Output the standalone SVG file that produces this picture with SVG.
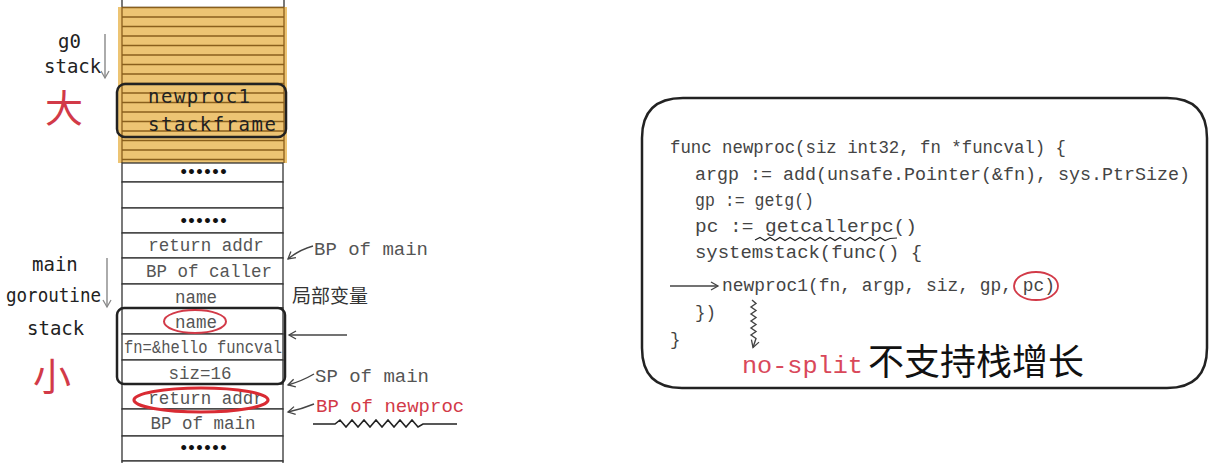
<svg xmlns="http://www.w3.org/2000/svg" width="1231" height="463" viewBox="0 0 1231 463">
<style>
.cell{fill:#fff;stroke:#333;stroke-width:1.3}
.ct{font-family:"Liberation Mono","Courier New",monospace;font-size:17.5px;fill:#555;text-anchor:middle}
.dots{font-family:"DejaVu Sans",sans-serif;font-size:14px;font-weight:bold;fill:#111;text-anchor:middle;letter-spacing:-1px}
.hand{font-family:"DejaVu Sans Mono",monospace;font-size:19px;fill:#222}
.lbl{font-family:"Liberation Mono","Courier New",monospace;font-size:19px;fill:#555}
.code{font-family:"Liberation Mono","Courier New",monospace;font-size:17.5px;fill:#444}
.cjk{font-family:"Noto Sans CJK SC",sans-serif}
.red{fill:#d23a48}
.arr{fill:none;stroke:#444;stroke-width:1.4;marker-end:url(#open)}
.stripe{stroke:#8a5f1c;stroke-width:1.3}
</style>
<defs>
<marker id="open" markerWidth="10" markerHeight="10" refX="8" refY="5" orient="auto" markerUnits="userSpaceOnUse">
<path d="M1,1 L8,5 L1,9" fill="none" stroke="#444" stroke-width="1.3"/>
</marker>
<marker id="gopen" markerWidth="10" markerHeight="10" refX="8" refY="5" orient="auto" markerUnits="userSpaceOnUse">
<path d="M1,1 L8,5 L1,9" fill="none" stroke="#888" stroke-width="1.3"/>
</marker>
</defs>
<rect width="1231" height="463" fill="#fff"/>

<g id="g0-stack">
<rect class="cell" x="122" y="-2" width="162" height="9.5"/>
<rect x="118" y="7" width="169" height="156" fill="#edc473"/>
<g class="stripe">
<line x1="122" y1="7.5" x2="284" y2="7.5"/>
<line x1="122" y1="17" x2="284" y2="17"/>
<line x1="122" y1="26.5" x2="284" y2="26.5"/>
<line x1="122" y1="36" x2="284" y2="36"/>
<line x1="122" y1="45.5" x2="284" y2="45.5"/>
<line x1="122" y1="55" x2="284" y2="55"/>
<line x1="122" y1="64.5" x2="284" y2="64.5"/>
<line x1="122" y1="74" x2="284" y2="74"/>
<line x1="122" y1="83.5" x2="284" y2="83.5"/>
<line x1="122" y1="93" x2="284" y2="93"/>
<line x1="122" y1="102.5" x2="284" y2="102.5"/>
<line x1="122" y1="112" x2="284" y2="112"/>
<line x1="122" y1="121.5" x2="284" y2="121.5"/>
<line x1="122" y1="131" x2="284" y2="131"/>
<line x1="122" y1="140.5" x2="284" y2="140.5"/>
<line x1="122" y1="150" x2="284" y2="150"/>
<line x1="122" y1="159.5" x2="284" y2="159.5"/>
<line x1="122" y1="7" x2="122" y2="163"/>
<line x1="284" y1="7" x2="284" y2="163"/>
</g>
</g>

<g id="newproc1-frame">
<rect x="117" y="84" width="169" height="53" rx="8" fill="none" stroke="#222" stroke-width="2.5"/>
<text class="hand" x="148" y="103" letter-spacing="1.5">newproc1</text>
<text class="hand" x="148" y="131" letter-spacing="1.5">stackframe</text>
</g>

<g id="main-stack">
<rect class="cell" x="122" y="163" width="161" height="19"/>
<text class="dots" x="203" y="177">••••••</text>
<rect class="cell" x="122" y="182" width="161" height="26"/>
<rect class="cell" x="122" y="208" width="161" height="25"/>
<text class="dots" x="203" y="226">••••••</text>
<rect class="cell" x="122" y="233" width="161" height="25"/>
<text class="ct" x="206" y="251">return addr</text>
<rect class="cell" x="122" y="258" width="161" height="26"/>
<text class="ct" x="209" y="277">BP of caller</text>
<rect class="cell" x="122" y="284" width="161" height="24"/>
<text class="ct" x="196" y="303">name</text>
<rect class="cell" x="122" y="308" width="161" height="26"/>
<text class="ct" x="196" y="328">name</text>
<rect class="cell" x="122" y="334" width="161" height="26"/>
<text class="ct" x="203" y="353" textLength="158" lengthAdjust="spacingAndGlyphs">fn=&amp;hello funcval</text>
<rect class="cell" x="122" y="360" width="161" height="24"/>
<text class="ct" x="200" y="379">siz=16</text>
<rect class="cell" x="122" y="384" width="161" height="25"/>
<text class="ct" x="206" y="404">return addr</text>
<rect class="cell" x="122" y="409" width="161" height="27"/>
<text class="ct" x="203" y="429">BP of main</text>
<rect class="cell" x="122" y="436" width="161" height="25"/>
<text class="dots" x="203" y="453">••••••</text>
<rect class="cell" x="122" y="461" width="161" height="10"/>
<rect x="117" y="308" width="168" height="76" rx="7" fill="none" stroke="#222" stroke-width="2.5"/>
<ellipse cx="195" cy="321.5" rx="31" ry="11.5" fill="none" stroke="#d23a48" stroke-width="2"/>
<ellipse cx="201" cy="400" rx="67" ry="12" fill="none" stroke="#d92b33" stroke-width="3.2"/>
</g>

<g id="left-labels">
<text class="hand" x="58" y="48">g0</text>
<text class="hand" x="44" y="73">stack</text>
<text class="cjk red" x="45" y="122" font-size="38">大</text>
<text class="hand" x="32" y="271">main</text>
<text class="hand" x="6" y="302" textLength="95" lengthAdjust="spacingAndGlyphs">goroutine</text>
<text class="hand" x="27" y="335">stack</text>
<text class="cjk red" x="33" y="390" font-size="38">小</text>
</g>

<g id="right-labels">
<text class="lbl" x="314" y="255">BP of main</text>
<text class="cjk" x="292" y="303" font-size="19" fill="#333">局部变量</text>
<text class="lbl" x="315" y="382">SP of main</text>
<text class="lbl red" x="316" y="412">BP of newproc</text>
</g>

<g id="connectors">
<line x1="105" y1="34" x2="105" y2="78" stroke="#888" stroke-width="1.4" marker-end="url(#gopen)"/>
<line x1="107" y1="258" x2="107" y2="307" stroke="#888" stroke-width="1.4" marker-end="url(#gopen)"/>
<path class="arr" d="M313,246 Q299,250 288,259"/>
<path class="arr" d="M347,335 L289,335"/>
<path class="arr" d="M314,374 Q302,381 288,385"/>
<path class="arr" d="M314,404 Q302,409 288,412"/>
<path d="M313,424 L335,424 l5,-4 l6,7 l6,-7 l6,7 l6,-7 l6,7 l6,-7 l6,7 l6,-7 l6,7 l6,-7 l6,7 l6,-7 l6,7 l5,-3 L457,424" fill="none" stroke="#222" stroke-width="1.6"/>
<path class="arr" d="M670,286 L718,286"/>
<path d="M755,240 l5,-2.5 l5,3 l5,-3 l5,3 l5,-3 l5,3 l5,-3 l5,3 l5,-3 l5,3 l5,-3 l5,3 l5,-3 l5,3 l5,-3 l5,3 l5,-3 l5,3 l5,-3 l5,3 l5,-3 l5,3 l5,-3 l5,3 l5,-3 l5,3 l5,-2 L897,238" fill="none" stroke="#222" stroke-width="1.2"/>
<path class="arr" d="M752,300 l4,3.5 l-5,3.5 l5,3.5 l-5,3.5 l5,3.5 l-5,3.5 l5,3.5 l-5,3.5 l5,3.5 l-5,3.5 l5,3.5 l-3,9" stroke-width="1.1"/>
<ellipse cx="1036" cy="286" rx="22" ry="14" fill="none" stroke="#d23a48" stroke-width="1.8"/>
</g>

<g id="code-box">
<path d="M683,98 L1167,98 Q1207,98 1207,138 L1207,348 Q1207,388 1167,388 L682,388 Q642,388 642,348 L642,138 Q642,98 683,98 Z" fill="none" stroke="#222" stroke-width="2.5"/>
<text class="code" x="670" y="153" textLength="396" lengthAdjust="spacingAndGlyphs">func newproc(siz int32, fn *funcval) {</text>
<text class="code" x="695" y="180" textLength="495" lengthAdjust="spacingAndGlyphs">argp := add(unsafe.Pointer(&amp;fn), sys.PtrSize)</text>
<text class="code" x="695" y="206" textLength="119" lengthAdjust="spacingAndGlyphs">gp := getg()</text>
<text class="code" x="695" y="232" textLength="222" lengthAdjust="spacingAndGlyphs">pc := getcallerpc()</text>
<text class="code" x="695" y="258" textLength="227" lengthAdjust="spacingAndGlyphs">systemstack(func() {</text>
<text class="code" x="722" y="291" textLength="333" lengthAdjust="spacingAndGlyphs">newproc1(fn, argp, siz, gp, pc)</text>
<text class="code" x="695" y="318">})</text>
<text class="code" x="670" y="345">}</text>
<text x="742" y="373" font-family="Liberation Mono, monospace" font-size="23" fill="#d9485a" textLength="121" lengthAdjust="spacingAndGlyphs">no-split</text>
<text class="cjk" x="868" y="375" font-size="36" fill="#111">不支持栈增长</text>
</g>
</svg>
